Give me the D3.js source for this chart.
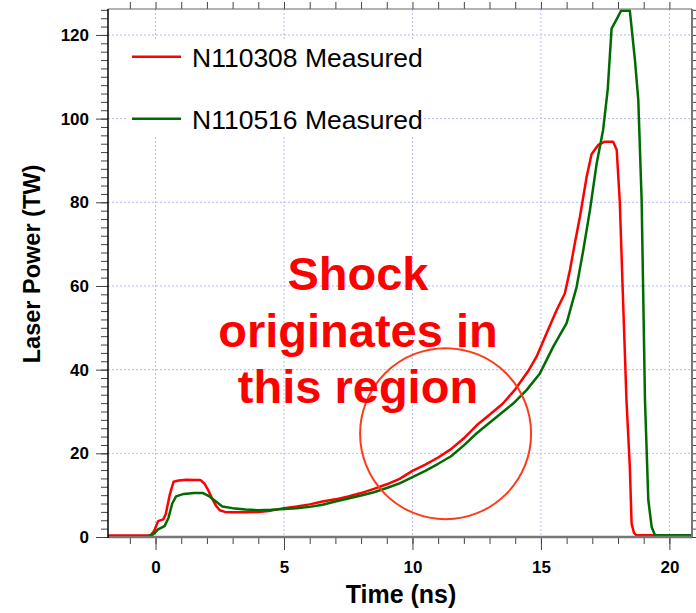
<!DOCTYPE html>
<html>
<head>
<meta charset="utf-8">
<script src="https://cdn.jsdelivr.net/npm/d3@7"></script>
<style>
  body { margin: 0; background: #fff; }
  svg { font-family: "Liberation Sans", Arial, sans-serif; }
  .grid line { stroke: #b8b8f4; stroke-width: 1; stroke-dasharray: 2,2; }
  .axis path { stroke: #222; }
  .axis line { stroke: #444; }
  .axis text { font-size: 17px; font-weight: bold; fill: #000; }
</style>
</head>
<body>
<div id="chart"></div>
<script>
var width = 696, height = 613;
var margin = {left: 108, right: 4, top: 9, bottom: 76};

// time (ns) and laser power (TW)
var shot1Name = 'N110308 Measured';
var shot1Time = [-1.85, -0.2, -0.05, 0.1, 0.3, 0.4, 0.55, 0.7, 0.9, 1.2, 1.5, 1.75, 1.9, 2.05, 2.2, 2.35, 2.5, 2.7, 3.0, 3.5,
  4.0, 4.5, 5.0, 5.5, 6.0, 6.5, 7.0, 7.5, 8.0, 8.5, 9.0, 9.5, 10.0, 10.5, 11.0, 11.5, 12.0, 12.5, 13.0, 13.5,
  14.0, 14.5, 14.83, 15.22, 15.61, 15.93, 16.13, 16.32, 16.52, 16.78, 16.97, 17.23, 17.49, 17.81, 17.95, 18.07,
  18.2, 18.33, 18.46, 18.53, 18.62, 18.72, 20.88];
var shot1Power = [0.35, 0.35, 1.5, 3.8, 4.2, 5.5, 10, 13.2, 13.5, 13.7, 13.6, 13.6, 12.8, 11.2, 9.2, 7.5, 6.4, 6.0, 5.9, 5.9,
  6.0, 6.3, 6.9, 7.3, 7.8, 8.5, 9.0, 9.7, 10.5, 11.5, 12.6, 13.9, 15.8, 17.3, 19.0, 21.0, 23.6, 26.7, 29.2, 31.8,
  35.3, 39.6, 43.1, 48.7, 54.2, 58.2, 63.8, 70.2, 76.6, 86.1, 91.5, 93.7, 94.5, 94.5, 92.5, 80.0,
  56, 32.7, 16.7, 3.2, 1.0, 0.4, 0.4];

var shot2Name = 'N110516 Measured';
var shot2Time = [-1.85, -0.3, -0.1, 0.1, 0.35, 0.5, 0.65, 0.8, 1.1, 1.5, 1.85, 2.1, 2.35, 2.6, 3.0, 3.5, 4.0, 4.5,
  5.0, 5.5, 6.0, 6.5, 7.0, 7.5, 8.0, 8.5, 9.0, 9.5, 10.0, 10.5, 11.0, 11.5, 12.0, 12.5, 13.0, 13.5, 13.92,
  14.44, 14.96, 15.48, 16.0, 16.39, 16.65, 16.91, 17.17, 17.42, 17.6, 17.75, 17.95, 18.12, 18.46, 18.66, 18.79,
  18.92, 19.05, 19.18, 19.31, 19.44, 20.88];
var shot2Power = [0.2, 0.2, 0.6, 1.8, 2.6, 4.5, 8, 9.7, 10.3, 10.5, 10.5, 9.7, 8.5, 7.3, 6.9, 6.6, 6.4, 6.5,
  6.7, 6.9, 7.2, 7.7, 8.5, 9.2, 9.9, 10.7, 11.7, 12.8, 14.3, 15.8, 17.5, 19.3, 21.9, 24.8, 27.3, 29.8, 31.9,
  35.1, 39.1, 45.5, 51.1, 59.8, 68.6, 78.2, 89.3, 97.3, 107, 121.5, 123.8, 125.8, 125.8, 114, 104.4,
  80.5, 32.7, 8.8, 2.4, 0.4, 0.4];

var xMajor = [0, 5, 10, 15, 20];
var yMajor = [0, 20, 40, 60, 80, 100, 120];
var noteLines = ['Shock', 'originates in', 'this region'];

var svg = d3.select('#chart').append('svg')
  .attr('width', width)
  .attr('height', height);

var x = d3.scaleLinear().domain([-1.85, 20.88]).range([margin.left, width - margin.right]);
var y = d3.scaleLinear().domain([0, 126.2]).range([height - margin.bottom, margin.top]);

// dotted grid at the major ticks
var grid = svg.append('g').attr('class', 'grid');
grid.selectAll('.gx').data(xMajor).enter().append('line')
  .attr('x1', d => x(d)).attr('x2', d => x(d))
  .attr('y1', y.range()[1]).attr('y2', y.range()[0]);
grid.selectAll('.gy').data(yMajor.slice(1)).enter().append('line')
  .attr('x1', x.range()[0]).attr('x2', x.range()[1])
  .attr('y1', d => y(d)).attr('y2', d => y(d));

// legend sits on a white patch that hides the grid
svg.append('rect')
  .attr('x', 128).attr('y', 40)
  .attr('width', 296).attr('height', 95)
  .attr('fill', '#fff');

svg.append('clipPath').attr('id', 'plot')
  .append('rect')
  .attr('x', x.range()[0]).attr('y', y.range()[1])
  .attr('width', x.range()[1] - x.range()[0])
  .attr('height', y.range()[0] - y.range()[1]);

var line = d3.line()
  .x(d => x(d[0]))
  .y(d => y(d[1]));

var series = [
  {name: shot1Name, color: '#ff0000', pts: d3.zip(shot1Time, shot1Power)},
  {name: shot2Name, color: '#006b00', pts: d3.zip(shot2Time, shot2Power)}
];

svg.append('g').attr('clip-path', 'url(#plot)')
  .selectAll('path')
  .data(series)
  .enter().append('path')
  .attr('d', d => line(d.pts))
  .attr('fill', 'none')
  .attr('stroke', d => d.color)
  .attr('stroke-width', 2.5)
  .attr('stroke-linejoin', 'round');

// legend
var leg = svg.append('g').selectAll('g')
  .data(series).enter().append('g')
  .attr('transform', (d, i) => 'translate(132,' + (56.7 + i * 62) + ')');
leg.append('line')
  .attr('x1', 0).attr('x2', 49)
  .attr('stroke', d => d.color).attr('stroke-width', 2.5);
leg.append('text')
  .attr('x', 60).attr('y', 10)
  .style('font-size', '26.5px')
  .text(d => d.name);

// annotation
svg.append('circle')
  .attr('cx', x(11.29)).attr('cy', y(24.7))
  .attr('r', 85.5)
  .attr('fill', 'none')
  .attr('stroke', '#ff3a1a')
  .attr('stroke-width', 2);

svg.append('g').selectAll('text')
  .data(noteLines).enter().append('text')
  .attr('x', x(7.88))
  .attr('y', (d, i) => y(59) + i * 56.6)
  .attr('text-anchor', 'middle')
  .style('font-size', '47px')
  .style('font-weight', 'bold')
  .attr('fill', '#ff0000')
  .text(d => d);

// axes: major ticks labelled, minor ticks plain
var x0 = x.range()[0], x1 = x.range()[1], y0 = y.range()[0], y1 = y.range()[1];

svg.append('g').attr('class', 'axis')
  .attr('transform', 'translate(0,' + y0 + ')')
  .call(d3.axisBottom(x).tickValues(d3.range(-1, 21, 1)).tickSize(7).tickFormat(''))
  .call(g => g.select('.domain').remove());
svg.append('g').attr('class', 'axis')
  .attr('transform', 'translate(0,' + y0 + ')')
  .call(d3.axisBottom(x).tickValues(xMajor).tickSize(13).tickPadding(11))
  .call(g => g.select('.domain').remove());

svg.append('g').attr('class', 'axis')
  .attr('transform', 'translate(0,' + y1 + ')')
  .call(d3.axisTop(x).tickValues(d3.range(-1, 21, 1)).tickSize(7).tickFormat(''))
  .call(g => g.select('.domain').remove());

svg.append('g').attr('class', 'axis')
  .attr('transform', 'translate(' + x0 + ',0)')
  .call(d3.axisLeft(y).tickValues(d3.range(0, 127, 2)).tickSize(7).tickFormat(''))
  .call(g => g.select('.domain').remove());
svg.append('g').attr('class', 'axis')
  .attr('transform', 'translate(' + x0 + ',0)')
  .call(d3.axisLeft(y).tickValues(yMajor).tickSize(12).tickPadding(7))
  .call(g => g.select('.domain').remove());

svg.append('g').attr('class', 'axis')
  .attr('transform', 'translate(' + x1 + ',0)')
  .call(d3.axisRight(y).tickValues(d3.range(0, 127, 2)).tickSize(7).tickFormat(''))
  .call(g => g.select('.domain').remove());

// frame
svg.append('line').attr('x1', x0).attr('x2', x1).attr('y1', y0).attr('y2', y0)
  .attr('stroke', '#777').attr('stroke-width', 2.5);
svg.append('line').attr('x1', x0).attr('x2', x1).attr('y1', y1).attr('y2', y1)
  .attr('stroke', '#666').attr('stroke-width', 1.2);
svg.append('line').attr('x1', x1).attr('x2', x1).attr('y1', y1).attr('y2', y0)
  .attr('stroke', '#777').attr('stroke-width', 2);
svg.append('line').attr('x1', x0).attr('x2', x0).attr('y1', y1).attr('y2', y0 + 1)
  .attr('stroke', '#000').attr('stroke-width', 1.5);

// axis titles
svg.append('text')
  .attr('x', (x0 + x1) / 2 + 1).attr('y', 603)
  .attr('text-anchor', 'middle')
  .style('font-size', '25px').style('font-weight', 'bold')
  .text('Time (ns)');
svg.append('text')
  .attr('transform', 'translate(40,' + 264 + ')rotate(-90)')
  .attr('text-anchor', 'middle')
  .style('font-size', '23.5px').style('font-weight', 'bold')
  .text('Laser Power (TW)');
</script>
</body>
</html>
